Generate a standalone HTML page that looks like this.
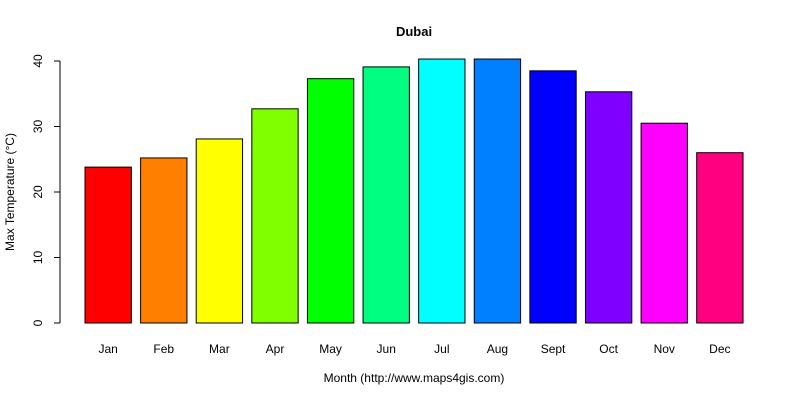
<!DOCTYPE html>
<html><head><meta charset="utf-8"><style>body{margin:0;background:#fff}svg{display:block;font-family:"Liberation Sans",Arial,sans-serif}</style></head>
<body>
<svg id="chart" width="800" height="400" viewBox="0 0 800 400">
<text x="414" y="36" font-size="13" font-weight="bold" text-anchor="middle">Dubai</text>
<text x="414" y="382" font-size="12" text-anchor="middle">Month (http://www.maps4gis.com)</text>
<text transform="translate(14,192) rotate(-90)" font-size="12" text-anchor="middle">Max Temperature (°C)</text>
<g id="bars"></g><g id="yaxis"></g><g id="xlabels"></g>
</svg>
<script>
const months=["Jan","Feb","Mar","Apr","May","Jun","Jul","Aug","Sept","Oct","Nov","Dec"];
const values=[23.8,25.2,28.1,32.7,37.3,39.1,40.3,40.3,38.5,35.3,30.5,26.0];
const colors=["#FF0000","#FF8000","#FFFF00","#80FF00","#00FF00","#00FF80","#00FFFF","#0080FF","#0000FF","#8000FF","#FF00FF","#FF0080"];
const yTicks=[0,10,20,30,40];
const ns="http://www.w3.org/2000/svg";
const y0=323,ppu=(323-61)/40;
const yS=v=>y0-v*ppu;
const w=46.34,step=w*1.2,x0=85;
const xS=i=>x0+i*step;
function mk(t,a,p){const e=document.createElementNS(ns,t);for(const k in a)e.setAttribute(k,a[k]);p.appendChild(e);return e;}
const bg=document.getElementById('bars'),xl=document.getElementById('xlabels'),ya=document.getElementById('yaxis');
values.forEach((v,i)=>{
const r=mk('rect',{x:xS(i),y:yS(v),width:w,height:y0-yS(v),fill:colors[i],stroke:'#000','stroke-width':1},bg);


const t=mk('text',{x:xS(i)+w/2,y:353,'font-size':12,'text-anchor':'middle'},xl);
t.textContent=months[i];


});
const ax=mk('line',{x1:60,x2:60,y1:yS(0),y2:yS(40),stroke:'#000'},ya);


yTicks.forEach(v=>{
const l=mk('line',{x1:54,x2:60,y1:yS(v),y2:yS(v),stroke:'#000'},ya);


const t=mk('text',{transform:`translate(42,${yS(v)}) rotate(-90)`,'font-size':12,'text-anchor':'middle'},ya);
t.textContent=v;


});
</script>
</body></html>
